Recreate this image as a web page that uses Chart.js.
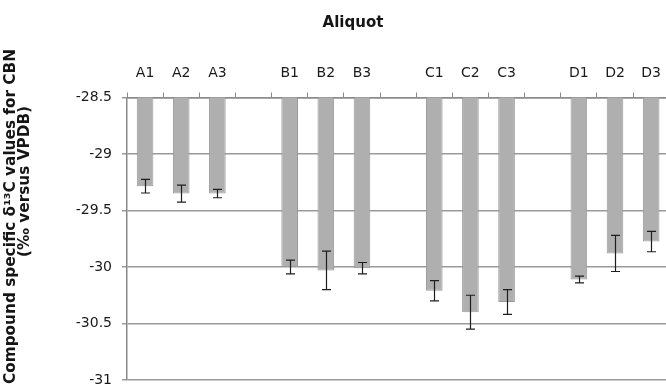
<!DOCTYPE html>
<html><head><meta charset="utf-8">
<script src="https://cdn.jsdelivr.net/npm/chart.js@4.4.0/dist/chart.umd.min.js"></script>
<style>
html,body{margin:0;padding:0;overflow:hidden;background:#fff;width:666px;height:387px}
#c{position:absolute;left:0;top:0}
</style>
</head><body><canvas id="c" width="672" height="400" style="width:672px;height:400px"></canvas>
<script>
const categories = ['A1','A2','A3','','B1','B2','B3','','C1','C2','C3','','D1','D2','D3'];
const values = [-29.285,-29.35,-29.35,null,-30.0,-30.03,-30.01,null,-30.21,-30.40,-30.31,null,-30.11,-29.88,-29.775];
const errors = [0.06,0.075,0.037,null,0.06,0.17,0.05,null,0.09,0.15,0.11,null,0.03,0.16,0.09];
const yTicks = [-28.5,-29,-29.5,-30,-30.5,-31];
const xTitle = 'Aliquot';
const yTitle1 = 'Compound specific δ¹³C values for CBN';
const yTitle2 = '(‰ versus VPDB)';

const FONT = '"DejaVu Sans", sans-serif';

const errorBars = {
  id: 'errorBars',
  afterDatasetsDraw(chart) {
    const ctx = chart.ctx;
    const meta = chart.getDatasetMeta(0);
    const ys = chart.scales.y;
    ctx.save();
    ctx.strokeStyle = '#1e1e1e';
    ctx.lineWidth = 1.2;
    meta.data.forEach((el, i) => {
      const v = values[i], e = errors[i];
      if (v === null || e === null) return;
      const x = Math.round(el.x) + 0.5;
      const y1 = ys.getPixelForValue(v + e);
      const y2 = ys.getPixelForValue(v - e);
      ctx.beginPath();
      ctx.moveTo(x, y1); ctx.lineTo(x, y2);
      ctx.moveTo(x - 4.5, y1); ctx.lineTo(x + 4.5, y1);
      ctx.moveTo(x - 4.5, y2); ctx.lineTo(x + 4.5, y2);
      ctx.stroke();
    });
    ctx.restore();
  }
};

const titles = {
  id: 'titles',
  afterDraw(chart) {
    const ctx = chart.ctx;
    ctx.save();
    ctx.fillStyle = '#151515';
    ctx.font = 'bold 15px ' + FONT;
    ctx.textAlign = 'center';
    ctx.textBaseline = 'alphabetic';
    ctx.fillText(xTitle, 353, 27);
    ctx.textBaseline = 'middle';
    ctx.font = 'bold 15.3px ' + FONT;
    ctx.save();
    ctx.translate(11, 216.5);
    ctx.rotate(-Math.PI / 2);
    ctx.fillText(yTitle1, 0, 0);
    ctx.restore();
    ctx.save();
    ctx.translate(25.5, 181.5);
    ctx.rotate(-Math.PI / 2);
    ctx.fillText(yTitle2, 0, 0);
    ctx.restore();
    ctx.restore();
  }
};

new Chart(document.getElementById('c'), {
  type: 'bar',
  data: {
    labels: categories,
    datasets: [{
      data: values,
      backgroundColor: '#afafaf',
      borderColor: '#999999',
      borderWidth: 1,
      categoryPercentage: 1,
      barPercentage: 0.46
    }]
  },
  options: {
    responsive: false,
    maintainAspectRatio: false,
    animation: false,
    layout: { padding: { left: 0, top: 51, right: 0, bottom: 20 } },
    plugins: { legend: { display: false }, tooltip: { enabled: false } },
    scales: {
      x: {
        position: 'top',
        afterFit(scale) { scale.height = 46.5; },
        grid: { drawOnChartArea: false, drawTicks: true, tickLength: 5, color: '#8a8a8a', lineWidth: 1 },
        border: { display: true, color: '#8a8a8a', width: 1.5 },
        ticks: { color: '#1a1a1a', font: { family: FONT, size: 14 }, padding: 11, maxRotation: 0, autoSkip: false }
      },
      y: {
        min: -31, max: -28.5,
        afterFit(scale) { scale.width = 127; },
        afterBuildTicks(scale) { scale.ticks = yTicks.map(v => ({ value: v })); },
        grid: { color: '#9a9a9a', lineWidth: 1.5, tickLength: 5 },
        border: { display: true, color: '#8a8a8a', width: 1.5 },
        ticks: { color: '#1a1a1a', font: { family: FONT, size: 14 }, padding: 10, callback: v => String(v) }
      }
    }
  },
  plugins: [errorBars, titles]
});
</script>
</body></html>
